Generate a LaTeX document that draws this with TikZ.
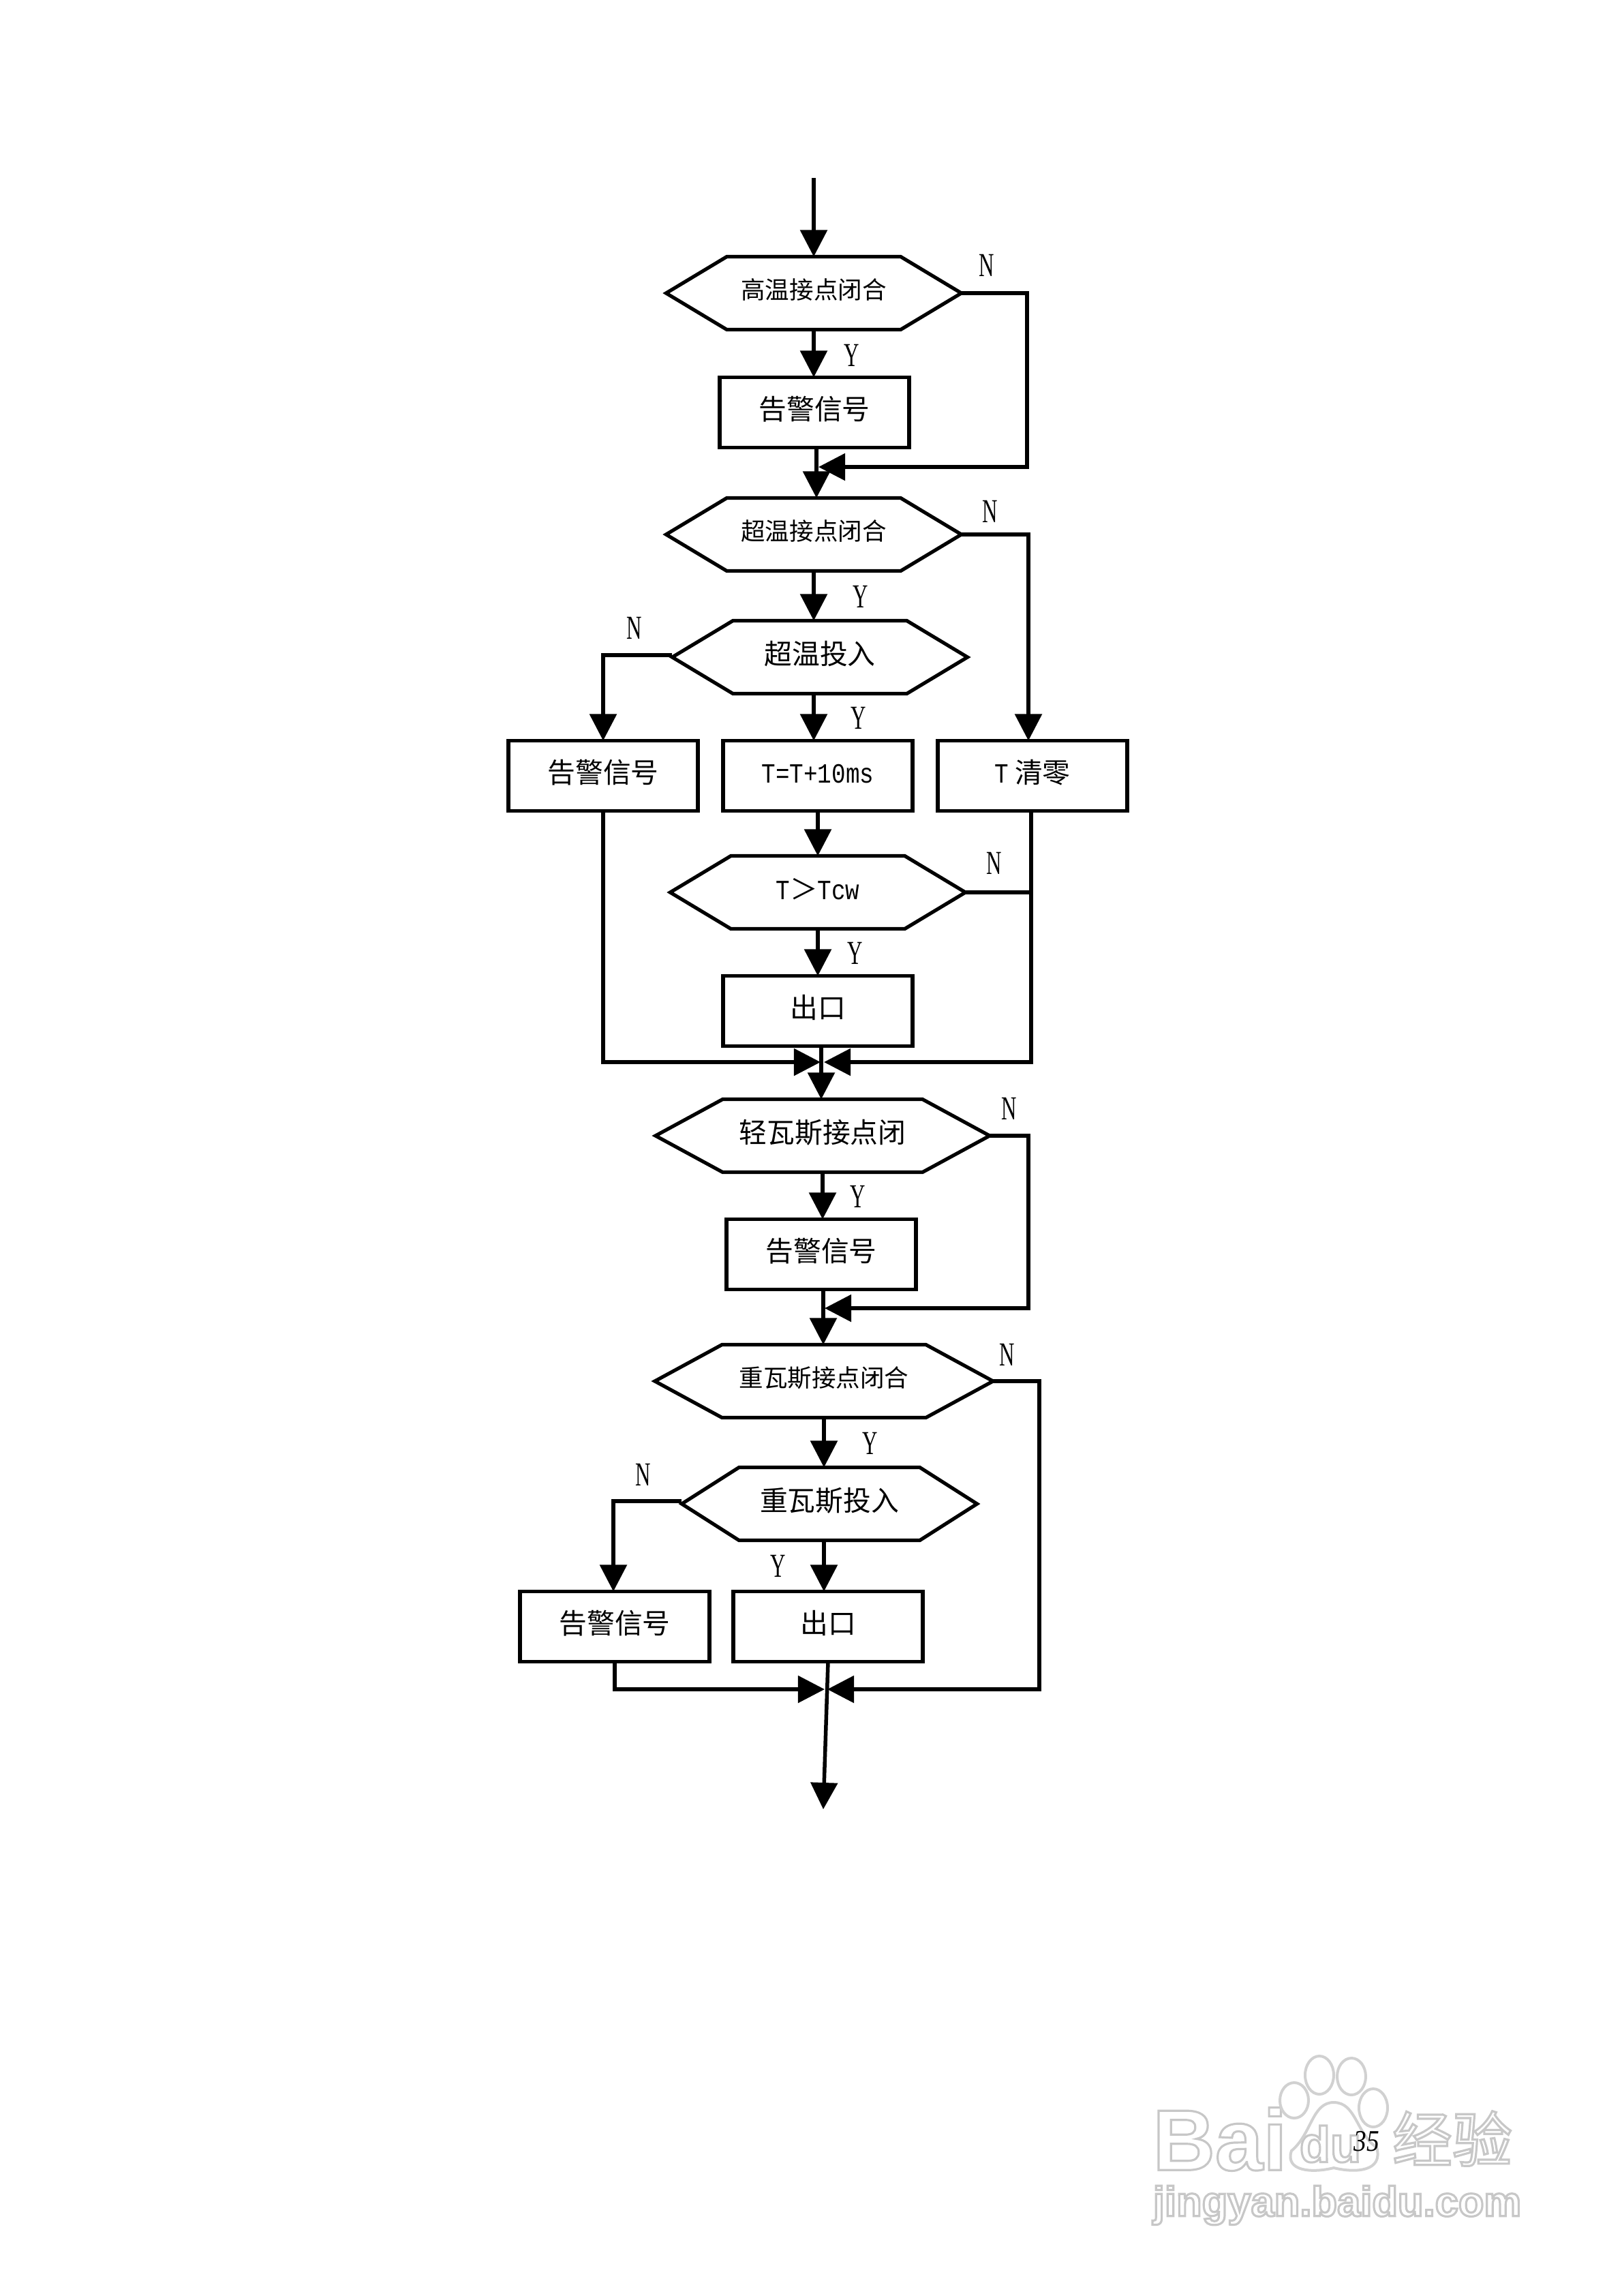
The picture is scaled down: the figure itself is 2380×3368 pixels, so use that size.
\documentclass[tikz,border=0pt]{standalone}
\usepackage{fontspec}
\setmainfont{Noto Sans CJK SC}
\newfontfamily\latn[FakeStretch=0.63]{Liberation Serif}
\newfontfamily\latm[FakeStretch=0.84]{Liberation Mono}
\newfontfamily\pagenum[FakeStretch=0.85]{Liberation Serif}
\newfontfamily\marklat{Liberation Sans}
\newcommand{\outlined}[1]{\special{pdf:code q 1 Tr 0.9 w}#1\special{pdf:code Q}}
\usetikzlibrary{arrows.meta,shapes.symbols,positioning,calc}
\tikzstyle{hexnode}=[signal, signal to=east and west, signal pointer angle=62, draw=black, line width=0.052cm, minimum width=4.33cm, minimum height=1.07cm, inner sep=0pt, outer sep=0pt, text height=10pt, text depth=4pt, font=\fontsize{11.6}{12}\selectfont]
\tikzstyle{boxnode}=[rectangle, draw=black, line width=0.052cm, minimum width=2.78cm, minimum height=1.03cm, inner sep=0pt, outer sep=0pt, text height=10pt, text depth=4pt, font=\fontsize{11.6}{12}\selectfont]
\tikzstyle{small}=[text depth=5pt, font=\fontsize{10.1}{12}\selectfont]
\tikzstyle{flag}=[inner sep=0pt, font=\latn\fontsize{14}{16}\selectfont]
\tikzstyle{wire}=[line width=0.055cm]
\tikzstyle{markline}=[draw=black!18, line width=0.04cm]
\tikzstyle{marktext}=[inner sep=0pt, text=black!22]
\begin{document}
\begin{tikzpicture}[x=0.01cm,y=-0.01cm,>={Triangle[length=0.39cm,width=0.39cm]}]
		\useasboundingbox(0,0)rectangle(2380,3368);
		\node[marktext,font=\marklat\bfseries\fontsize{36}{40}\selectfont](MB)at(1790,3138){\outlined{Bai}};
		\node[marktext,font=\marklat\bfseries\fontsize{21}{24}\selectfont](MD)at(1952,3145){\outlined{du}};
		\node[marktext,font=\fontsize{25}{28}\selectfont](MJ)at(2131,3137){\outlined{经验}};
		\node[marktext,font=\marklat\bfseries\fontsize{17.5}{20}\selectfont](MU)at(1962,3235){\outlined{jingyan.baidu.com}};
		\draw[markline](1899,3081)ellipse(21 and 26);
		\draw[markline](1936,3044)ellipse(21 and 28);
		\draw[markline](1983,3046)ellipse(21 and 27);
		\draw[markline](2015,3092)ellipse(21 and 28);
		\draw[markline](1957,3084)..controls(1925,3084)and(1925,3130)..(1895,3155)..controls(1885,3185)and(1925,3188)..(1957,3180)..controls(1990,3188)and(2030,3185)..(2020,3150)..controls(1990,3130)and(1990,3084)..(1957,3084);
		\node[hexnode,small](HT)at(1194,430){高温接点闭合};
		\node[boxnode](AL1)at(1195,605){告警信号};
		\node[hexnode,small](OT)at(1194,784){超温接点闭合};
		\node[hexnode](OI)at(1203,964){超温投入};
		\node[boxnode](AL2)at(885,1138){告警信号};
		\node[boxnode](TI)at(1200,1138){\latm T=T+10ms};
		\node[boxnode](TZ)at(1515,1138){{\latm T} 清零};
		\node[hexnode](TC)at(1200,1309){{\latm T}＞{\latm Tcw}};
		\node[boxnode](EX1)at(1200,1483){出口};
		\node[hexnode,minimum width=4.9cm,signal pointer angle=57](LG)at(1207,1666){轻瓦斯接点闭};
		\node[boxnode](AL3)at(1205,1840){告警信号};
		\node[hexnode,small,minimum width=4.96cm,signal pointer angle=57](HG)at(1209,2026){重瓦斯接点闭合};
		\node[hexnode,signal pointer angle=65](HI)at(1217,2206){重瓦斯投入};
		\node[boxnode](AL4)at(902,2386){告警信号};
		\node[boxnode](EX2)at(1215,2386){出口};
		\node[flag](Y1)at(1250,521){Y};
		\node[flag](N1)at(1448,389){N};
		\node[flag](N2)at(1453,750){N};
		\node[flag](Y2)at(1263,875){Y};
		\node[flag](N3)at(931,921){N};
		\node[flag](Y3)at(1260,1053){Y};
		\node[flag](N4)at(1459,1266){N};
		\node[flag](Y4)at(1255,1398){Y};
		\node[flag](N5)at(1481,1626){N};
		\node[flag](Y5)at(1259,1755){Y};
		\node[flag](N6)at(1478,1987){N};
		\node[flag](Y6)at(1277,2117){Y};
		\node[flag](N7)at(944,2163){N};
		\node[flag](Y7)at(1142,2297){Y};
		\node[inner sep=0pt,font=\pagenum\itshape\fontsize{12.5}{14}\selectfont](PG)at(2005,3141){35};
		\coordinate(S1)at(1194,261);
		\coordinate(J1)at(1198,685);
		\coordinate(J1R)at(1201,685);
		\coordinate(C1)at(1507,685);
		\coordinate(J2)at(1509,784);
		\coordinate(L1)at(885,961);
		\coordinate(C2)at(885,1558);
		\coordinate(C3)at(1513,1558);
		\coordinate(T2)at(1204,1558);
		\coordinate(T3)at(1209,1558);
		\coordinate(J3)at(1205,1558);
		\coordinate(C4)at(1509,1662);
		\coordinate(C5)at(1509,1919);
		\coordinate(J4)at(1208,1919);
		\coordinate(J4R)at(1210,1919);
		\coordinate(C6)at(1525,2026);
		\coordinate(C7)at(1525,2478);
		\coordinate(T4)at(1214,2478);
		\coordinate(T5)at(1210,2478);
		\coordinate(C8)at(902,2478);
		\coordinate(L2)at(900,2202);
		\coordinate(E1)at(1208,2654);
		\draw[wire,->](S1)--(HT.north);
		\draw[wire,->](HT.south)--(HT.south|-AL1.north);
		\draw[wire,->](J1|-AL1.south)--(J1|-OT.north);
		\draw[wire,->](HT.east)-|(C1)--(J1R);
		\draw[wire,->](OT.south)--(OT.south|-OI.north);
		\draw[wire,->](OT.east)-|(J2)--(J2|-TZ.north);
		\draw[wire,->](L1-|OI.west)--(L1)--(L1|-AL2.north);
		\draw[wire,->](OT.south|-OI.south)--(OT.south|-TI.north);
		\draw[wire,->](TI.south)--(TC.north);
		\draw[wire](TC.east)--(C3|-TC.east);
		\draw[wire,->](TC.south)--(EX1.north);
		\draw[wire,->](AL2.south)--(C2)--(T2);
		\draw[wire,->](C3|-TZ.south)--(C3)--(T3);
		\draw[wire,->](J3|-EX1.south)--(J3|-LG.north);
		\draw[wire,->](LG.south)--(LG.south|-AL3.north);
		\draw[wire,->](LG.east)--(C4|-LG.east)--(C5)--(J4R);
		\draw[wire,->](J4|-AL3.south)--(J4|-HG.north);
		\draw[wire,->](HG.south)--(HG.south|-HI.north);
		\draw[wire,->](HG.east)--(C6)--(C7)--(T4);
		\draw[wire,->](L2-|HI.west)--(L2)--(L2|-AL4.north);
		\draw[wire,->](HG.south|-HI.south)--(HG.south|-EX2.north);
		\draw[wire,->](AL4.south)--(C8)--(T5);
		\draw[wire,->](EX2.south)--(E1);
\end{tikzpicture}
\end{document}
